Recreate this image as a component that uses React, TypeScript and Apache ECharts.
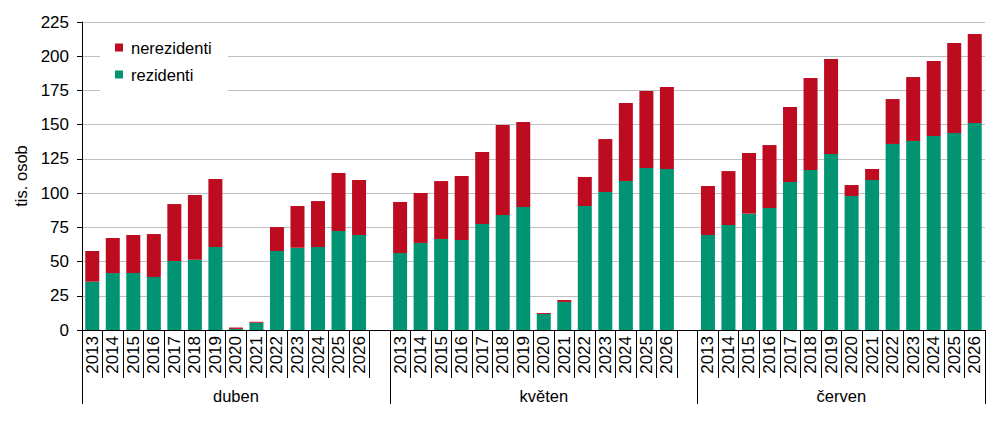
import React, { useEffect, useRef } from 'react';
import * as echarts from 'echarts';

const months = ['duben', 'květen', 'červen'];
const years = ['2013', '2014', '2015', '2016', '2017', '2018', '2019', '2020', '2021', '2022', '2023', '2024', '2025', '2026'];

// rezidenti (tis. osob) per month
const rezDuben = [35.3, 41.6, 41.6, 38.7, 50.4, 51.4, 60.6, 0.8, 5.3, 57.7, 60.1, 60.6, 72.3, 69.4];
const rezKveten = [56.2, 63.6, 66.5, 65.7, 77.4, 84, 89.9, 11.7, 20.5, 90.6, 100.8, 108.8, 118.3, 117.6];
const rezCerven = [69.4, 76.7, 85, 89.1, 108.1, 116.9, 128.6, 97.9, 109.6, 135.9, 138.1, 141.7, 143.9, 151.2];

// nerezidenti (tis. osob) per month
const nerezDuben = [22.4, 25.6, 27.8, 31.4, 41.6, 47.2, 49.7, 1.0, 0.7, 17.5, 30.5, 33.6, 42.4, 40.2];
const nerezKveten = [37.3, 36.5, 42.3, 46.8, 52.6, 65.8, 62, 0.7, 1.4, 21.2, 38.7, 57, 56.3, 59.9];
const nerezCerven = [35.8, 39.4, 44.3, 46, 54.8, 67.2, 69.4, 8, 8, 32.8, 46.7, 54.8, 65.8, 65];

const yTicks = { min: 0, max: 225, interval: 25 };

const RED = '#BD0B1F';
const GREEN = '#009472';
const FONT = 'Liberation Sans, Arial, sans-serif';

const App: React.FC = () => {
  const chartRef = useRef<HTMLDivElement>(null);

  useEffect(() => {
    document.body.style.margin = '0';
    const chart = echarts.init(chartRef.current!, undefined, { renderer: 'svg' });

    // one empty slot after each month except the last
    const cats: string[] = [];
    const rez: (number | null)[] = [];
    const nerez: (number | null)[] = [];
    const rezAll = [rezDuben, rezKveten, rezCerven];
    const nerezAll = [nerezDuben, nerezKveten, nerezCerven];
    months.forEach((_, m) => {
      years.forEach((y, i) => {
        cats.push(y);
        rez.push(rezAll[m][i]);
        nerez.push(nerezAll[m][i]);
      });
      if (m < months.length - 1) {
        cats.push('');
        rez.push(null);
        nerez.push(null);
      }
    });

    // half-slot point axis for month separators and month names
    const halfCount = cats.length * 2 + 1;
    const boundaries: number[] = [];
    const centers: Record<number, string> = {};
    let pos = 0;
    months.forEach((name, m) => {
      const span = years.length + (m < months.length - 1 ? 1 : 0);
      boundaries.push(pos * 2);
      centers[pos * 2 + span] = name;
      pos += span;
    });
    boundaries.push(pos * 2);
    const monthCats = Array.from({ length: halfCount }, (_, i) => centers[i] || '');

    const option = {
      animation: false,
      textStyle: { fontFamily: FONT },
      grid: { left: 82, right: 19, top: 22, bottom: 94, containLabel: false },
      legend: {
        data: ['nerezidenti', 'rezidenti'],
        orient: 'vertical',
        left: 100,
        top: 30,
        padding: [9, 16, 9, 15],
        backgroundColor: '#ffffff',
        itemWidth: 8,
        itemHeight: 8,
        itemGap: 10,
        icon: 'rect',
        textStyle: { fontSize: 16.5, color: '#000', fontFamily: FONT, padding: [0, 0, 0, 3] },
      },
      xAxis: [
        {
          type: 'category',
          data: cats,
          boundaryGap: true,
          axisLine: { show: true, lineStyle: { color: '#000', width: 1 } },
          axisTick: { show: true, interval: 0, length: 48, lineStyle: { color: '#000', width: 1 } },
          axisLabel: {
            interval: 0,
            rotate: 90,
            fontSize: 17,
            color: '#000',
            fontFamily: FONT,
            margin: 6,
          },
          splitLine: { show: false },
        },
        {
          type: 'category',
          data: monthCats,
          boundaryGap: false,
          position: 'bottom',
          axisLine: { show: false },
          axisTick: {
            show: true,
            interval: (idx: number) => boundaries.includes(idx),
            length: 74,
            lineStyle: { color: '#000', width: 1 },
          },
          axisLabel: {
            interval: (idx: number) => !!centers[idx],
            fontSize: 16.5,
            color: '#000',
            fontFamily: FONT,
            margin: 57,
          },
          splitLine: { show: false },
        },
      ],
      yAxis: {
        type: 'value',
        min: yTicks.min,
        max: yTicks.max,
        interval: yTicks.interval,
        name: 'tis. osob',
        nameLocation: 'middle',
        nameGap: 52,
        nameTextStyle: { fontSize: 16.5, color: '#000', fontFamily: FONT },
        axisLine: { show: true, lineStyle: { color: '#000', width: 1 } },
        axisTick: { show: true, length: 5, lineStyle: { color: '#000' } },
        axisLabel: { fontSize: 17, color: '#000', fontFamily: FONT, margin: 13 },
        splitLine: { show: true, lineStyle: { color: '#bfbfbf', width: 1 } },
      },
      series: [
        {
          name: 'rezidenti',
          type: 'bar',
          stack: 'total',
          xAxisIndex: 0,
          data: rez,
          barWidth: 14,
          itemStyle: { color: GREEN },
        },
        {
          name: 'nerezidenti',
          type: 'bar',
          stack: 'total',
          xAxisIndex: 0,
          data: nerez,
          barWidth: 14,
          itemStyle: { color: RED },
        },
      ],
    };

    chart.setOption(option);

    const handleResize = () => chart.resize();
    window.addEventListener('resize', handleResize);
    return () => {
      window.removeEventListener('resize', handleResize);
      chart.dispose();
    };
  }, []);

  return <div ref={chartRef} style={{ width: '1004px', height: '424px' }} />;
};

export default App;
